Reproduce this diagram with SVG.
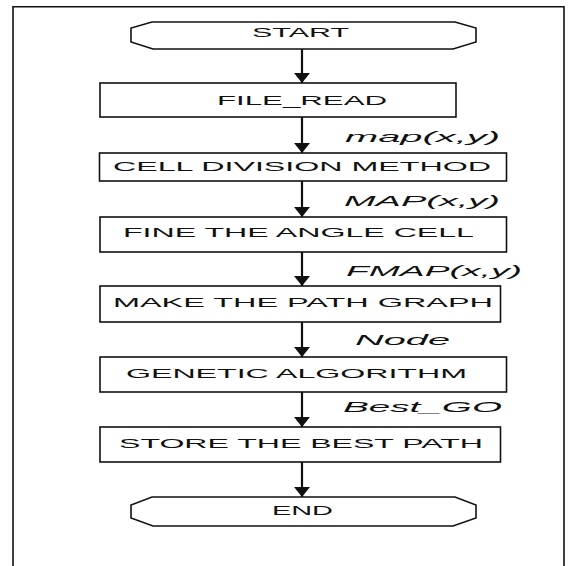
<svg xmlns="http://www.w3.org/2000/svg" width="575" height="566" viewBox="0 0 575 566">
<defs>
<style>
.box{fill:#fff;stroke:#111;stroke-width:1.6}
.frame{fill:none;stroke:#111;stroke-width:1.6}
.t{font-family:"Liberation Sans","DejaVu Sans",sans-serif;font-size:13.5px;fill:#111;text-anchor:start}
.lbl{font-family:"Liberation Sans","DejaVu Sans",sans-serif;font-size:15px;font-style:italic;fill:#111}
.conn{stroke:#111;stroke-width:2.2;fill:none}
</style>
<marker id="ah" markerWidth="10" markerHeight="16" refX="10" refY="8" orient="auto" markerUnits="userSpaceOnUse">
<path d="M0,0 L10,8 L0,16 Z" fill="#111"/>
</marker>
</defs>
<rect width="575" height="566" fill="#fff"/>
<path class="frame" d="M13,566 L13,6.8 L564,6.8 L564,566"/>
<g id="connectors">
<line class="conn" x1="302" y1="49" x2="302" y2="83" marker-end="url(#ah)"/>
<line class="conn" x1="302" y1="117" x2="302" y2="153" marker-end="url(#ah)"/>
<line class="conn" x1="302" y1="181" x2="302" y2="217" marker-end="url(#ah)"/>
<line class="conn" x1="302" y1="252" x2="302" y2="286" marker-end="url(#ah)"/>
<line class="conn" x1="302" y1="322" x2="302" y2="357" marker-end="url(#ah)"/>
<line class="conn" x1="302" y1="392" x2="302" y2="427" marker-end="url(#ah)"/>
<line class="conn" x1="302" y1="462" x2="302" y2="497" marker-end="url(#ah)"/>
<text class="lbl" x="345" y="142" textLength="155" lengthAdjust="spacingAndGlyphs">map(x,y)</text>
<text class="lbl" x="344" y="206" textLength="156" lengthAdjust="spacingAndGlyphs">MAP(x,y)</text>
<text class="lbl" x="346" y="276" textLength="176" lengthAdjust="spacingAndGlyphs">FMAP(x,y)</text>
<text class="lbl" x="355" y="345" textLength="95" lengthAdjust="spacingAndGlyphs">Node</text>
<text class="lbl" x="343" y="412" textLength="159" lengthAdjust="spacingAndGlyphs">Best_GO</text>
</g>
<g id="start">
<path class="box" d="M152,22 L455,22 L476,28 L476,42 L453,49 L153,49 L131,42 L131,28 Z"/>
<text class="t" x="252" y="37" textLength="97" lengthAdjust="spacingAndGlyphs">START</text>
</g>
<g id="file_read">
<rect class="box" x="100" y="83" width="356" height="34"/>
<text class="t" x="217" y="105" textLength="170" lengthAdjust="spacingAndGlyphs">FILE_READ</text>
</g>
<g id="cell_division">
<rect class="box" x="99.5" y="153" width="407" height="28"/>
<text class="t" x="113" y="171" textLength="378" lengthAdjust="spacingAndGlyphs">CELL DIVISION METHOD</text>
</g>
<g id="fine_angle">
<rect class="box" x="100" y="217" width="406.5" height="35"/>
<text class="t" x="123" y="237" textLength="351" lengthAdjust="spacingAndGlyphs">FINE THE ANGLE CELL</text>
</g>
<g id="make_path">
<rect class="box" x="100" y="286" width="400.5" height="36"/>
<text class="t" x="113" y="307" textLength="380" lengthAdjust="spacingAndGlyphs">MAKE THE PATH GRAPH</text>
</g>
<g id="genetic">
<rect class="box" x="100" y="357" width="406.5" height="35"/>
<text class="t" x="126" y="378" textLength="341" lengthAdjust="spacingAndGlyphs">GENETIC ALGORITHM</text>
</g>
<g id="store">
<rect class="box" x="100" y="427" width="400.5" height="35"/>
<text class="t" x="119" y="448" textLength="364" lengthAdjust="spacingAndGlyphs">STORE THE BEST PATH</text>
</g>
<g id="end">
<path class="box" d="M152,497 L455,497 L476,505 L476,518 L453,526 L153,526 L131,518 L131,505 Z"/>
<text class="t" x="272" y="515" textLength="61" lengthAdjust="spacingAndGlyphs">END</text>
</g>
</svg>
